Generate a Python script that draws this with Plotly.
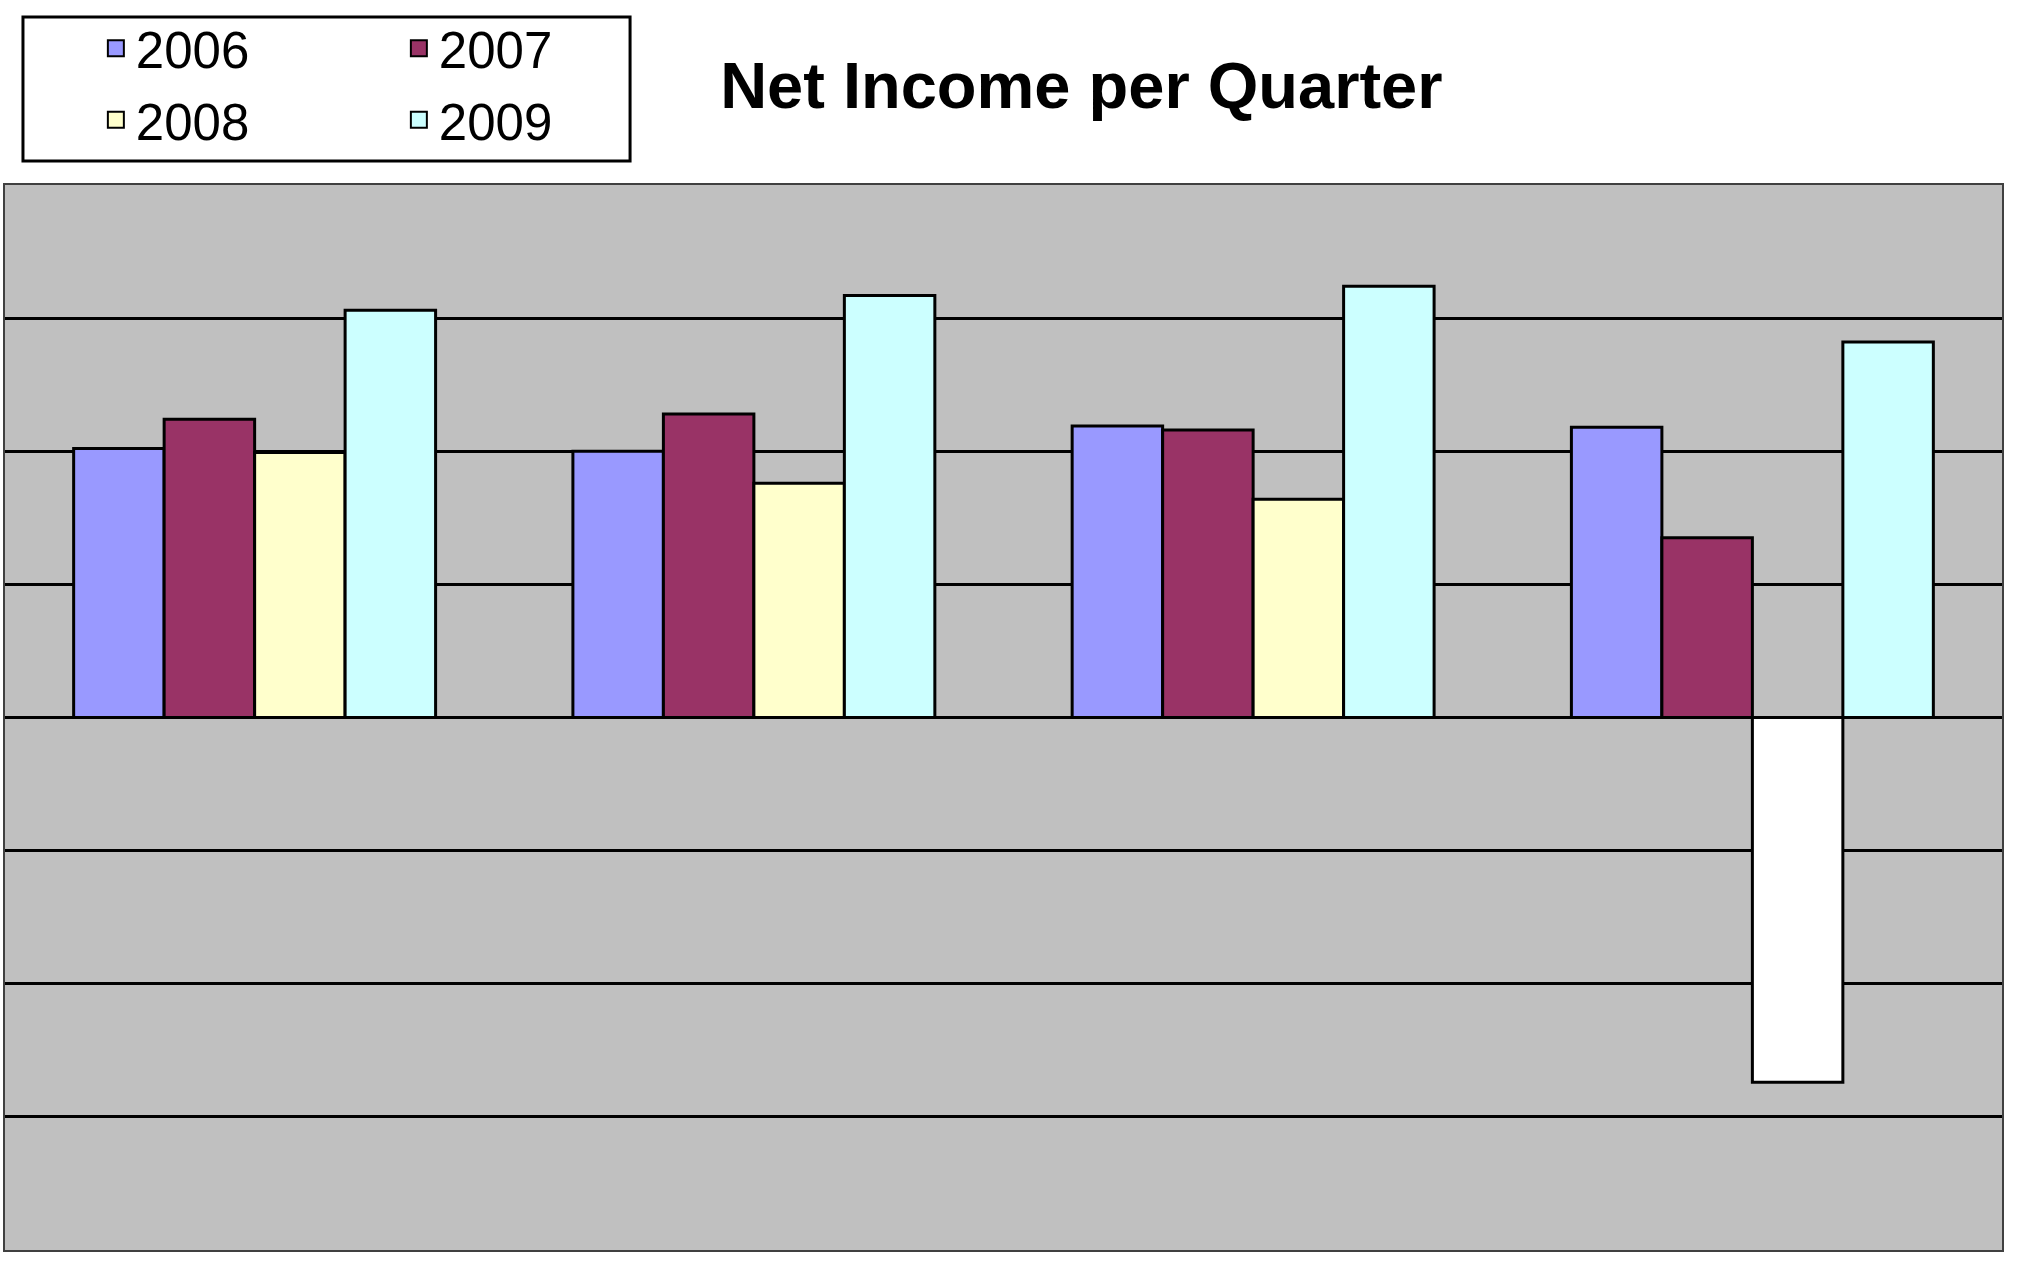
import plotly.graph_objects as go

quarters = ["Q1", "Q2", "Q3", "Q4"]
years = ["2006", "2007", "2008", "2009"]
y2006 = [2.02, 2.00, 2.19, 2.18]
y2007 = [2.24, 2.28, 2.16, 1.35]
y2008 = [1.99, 1.76, 1.64, -2.74]
y2009 = [3.06, 3.17, 3.24, 2.82]
colors = ["#9999FF", "#993366", "#FFFFCC", "#CCFFFF"]
negative_color = "#FFFFFF"

series = [y2006, y2007, y2008, y2009]

fig = go.Figure()
for i, (name, vals, col) in enumerate(zip(years, series, colors)):
    bar_colors = [negative_color if v < 0 else col for v in vals]
    fig.add_trace(go.Bar(
        x=quarters, y=vals, name=name, showlegend=False,
        marker=dict(color=bar_colors, line=dict(color="black", width=3)),
    ))

# legend entries (larger square swatches, like the original)
for i, (name, col) in enumerate(zip(years, colors)):
    fig.add_trace(go.Scatter(
        x=[None], y=[None], mode="markers", name=name,
        marker=dict(symbol="square", size=16, color=col,
                    line=dict(color="black", width=2)),
        legend="legend" if i < 2 else "legend2",
        showlegend=True, hoverinfo="skip",
    ))

legend_font = dict(family="Liberation Sans, Arial, sans-serif", size=51, color="black")

fig.update_layout(
    width=2025, height=1275,
    margin=dict(l=5, r=23, t=185, b=25),
    paper_bgcolor="white",
    plot_bgcolor="#C0C0C0",
    barmode="group",
    bargap=0.275,
    bargroupgap=0,
    title=dict(
        text="<b>Net Income per Quarter</b>",
        font=dict(family="Liberation Sans, Arial, sans-serif", size=65, color="black"),
        xref="container", x=0.534, xanchor="center",
        yref="container", y=0.933, yanchor="middle",
    ),
    legend=dict(
        orientation="h", x=0.0455, xanchor="left", y=1.128, yanchor="middle",
        font=legend_font, bgcolor="rgba(0,0,0,0)", borderwidth=0,
        entrywidth=258, entrywidthmode="pixels", traceorder="normal",
    ),
    legend2=dict(
        orientation="h", x=0.0455, xanchor="left", y=1.061, yanchor="middle",
        font=legend_font, bgcolor="rgba(0,0,0,0)", borderwidth=0,
        entrywidth=258, entrywidthmode="pixels", traceorder="normal",
    ),
    shapes=[dict(
        type="rect", xref="paper", yref="paper",
        x0=0.009, x1=0.313, y0=1.0225, y1=1.1577,
        line=dict(color="black", width=3), fillcolor="rgba(0,0,0,0)",
    )],
    xaxis=dict(
        showticklabels=False, ticks="", showgrid=False,
        showline=True, mirror=True, linecolor="#404040", linewidth=2,
        range=[-0.5, 3.5],
    ),
    yaxis=dict(
        range=[-4, 4], dtick=1, showticklabels=False, ticks="",
        showgrid=True, gridcolor="black", gridwidth=3,
        zeroline=True, zerolinecolor="black", zerolinewidth=3,
        showline=True, mirror=True, linecolor="#404040", linewidth=2,
    ),
)

fig.write_html("out.html")
